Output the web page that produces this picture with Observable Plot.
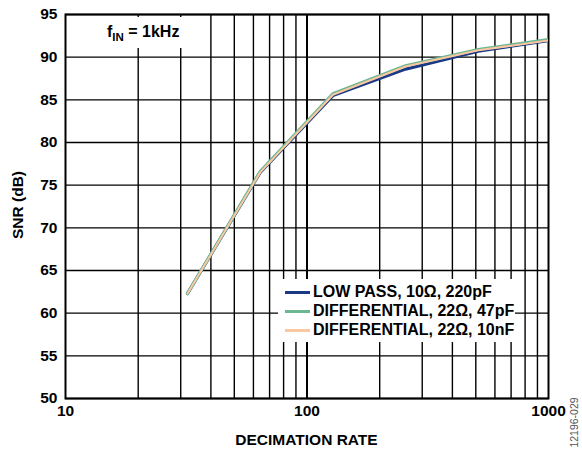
<!DOCTYPE html>
<html><head><meta charset="utf-8">
<script src="https://cdn.jsdelivr.net/npm/d3@7"></script>
<script src="https://cdn.jsdelivr.net/npm/@observablehq/plot@0.6"></script>
<style>
body{margin:0;background:#fff;font-family:"Liberation Sans",Arial,sans-serif;}
#wrap{position:relative;width:582px;height:452px;overflow:hidden;}
#wrap svg{position:absolute;left:0;top:0;}
.ov{position:absolute;font-weight:bold;color:#000;white-space:nowrap;}
#title{left:96px;top:17px;width:95px;height:31px;background:#fff;font-size:16px;}
#title span.t{position:absolute;left:11px;top:6px;}
#title sub{font-size:11.5px;vertical-align:-4px;}
#legend{left:278px;top:279px;width:237px;height:63px;background:#fff;font-size:16px;}
.row{position:absolute;left:0;height:19px;}
.sw{position:absolute;left:7px;top:8px;width:25px;height:3px;}
.lt{position:absolute;left:35px;top:0px;line-height:18px;}
#xlab{left:0;width:613px;text-align:center;top:431px;font-size:15.5px;}
#ylab{left:-32px;top:196px;width:100px;text-align:center;font-size:15.5px;transform:rotate(-90deg);}
#code{left:544px;top:416px;width:60px;height:13px;line-height:13px;font-size:10.5px;font-weight:normal;color:#555;transform:rotate(-90deg);text-align:center;}
</style></head><body><div id="wrap"></div>
<script>
const rates=[32,64,128,256,512,1024];
const lowPass=[62.3,76.5,85.5,88.6,90.7,92.0];
const diff47p=[62.3,76.6,85.7,89.0,90.9,92.1];
const diff10n=[62.3,76.5,85.6,88.9,90.8,92.0];
const seriesNames=["LOW PASS, 10Ω, 220pF","DIFFERENTIAL, 22Ω, 47pF","DIFFERENTIAL, 22Ω, 10nF"];
const seriesColors=["#1a3a86","#6bb78f","#fbc6a2"];
const seriesWidths=[3.2,3.2,2];
const xGrid=[20,30,40,50,60,70,80,90,200,300,400,500,600,700,800,900];
const xLabels=[10,100,1000];
const yTicks=[50,55,60,65,70,75,80,85,90,95];

const seriesValues=[lowPass,diff47p,diff10n];
const data=seriesValues.map((vals,i)=>rates.map((r,j)=>({rate:r,snr:vals[j],series:seriesNames[i]})));

const chart=Plot.plot({
  width:582,height:452,
  marginLeft:65,marginRight:34,marginTop:14,marginBottom:54,
  x:{type:"log",domain:[10,1000],label:null},
  y:{domain:[50,95],label:null},
  color:{domain:seriesNames,range:seriesColors},
  style:{fontFamily:'"Liberation Sans",Arial,sans-serif',fontSize:"15.5px",fontWeight:"bold",color:"#000",background:"#fff"},
  marks:[
    Plot.gridX(xGrid,{stroke:"#000",strokeOpacity:1,strokeWidth:1.4}),
    Plot.gridX([100],{stroke:"#000",strokeOpacity:1,strokeWidth:2}),
    Plot.gridY(yTicks,{stroke:"#000",strokeOpacity:1,strokeWidth:1.4}),
    Plot.frame({stroke:"#000",strokeWidth:2}),
    Plot.axisX(xLabels,{tickSize:0,tickPadding:6,tickFormat:d=>String(d),label:null}),
    Plot.axisY(yTicks,{tickSize:0,tickPadding:8,label:null}),
    ...data.map((d,i)=>Plot.line(d,{x:"rate",y:"snr",stroke:"series",strokeWidth:seriesWidths[i],clip:true}))
  ]
});
const wrap=document.getElementById("wrap");
wrap.appendChild(chart);

function div(id,html){const e=document.createElement("div");e.id=id;e.className="ov";e.innerHTML=html;wrap.appendChild(e);return e;}
div("title",'<span class="t">f<sub>IN</sub> = 1kHz</span>');
const lg=div("legend","");
seriesNames.forEach((n,i)=>{
  const r=document.createElement("div");r.className="row";r.style.top=(4+i*19)+"px";
  r.innerHTML=`<div class="sw" style="background:${seriesColors[i]}"></div><div class="lt">${n}</div>`;
  lg.appendChild(r);
});
div("xlab","DECIMATION RATE");
div("ylab","SNR (dB)");
div("code","12196-029");
</script></body></html>
